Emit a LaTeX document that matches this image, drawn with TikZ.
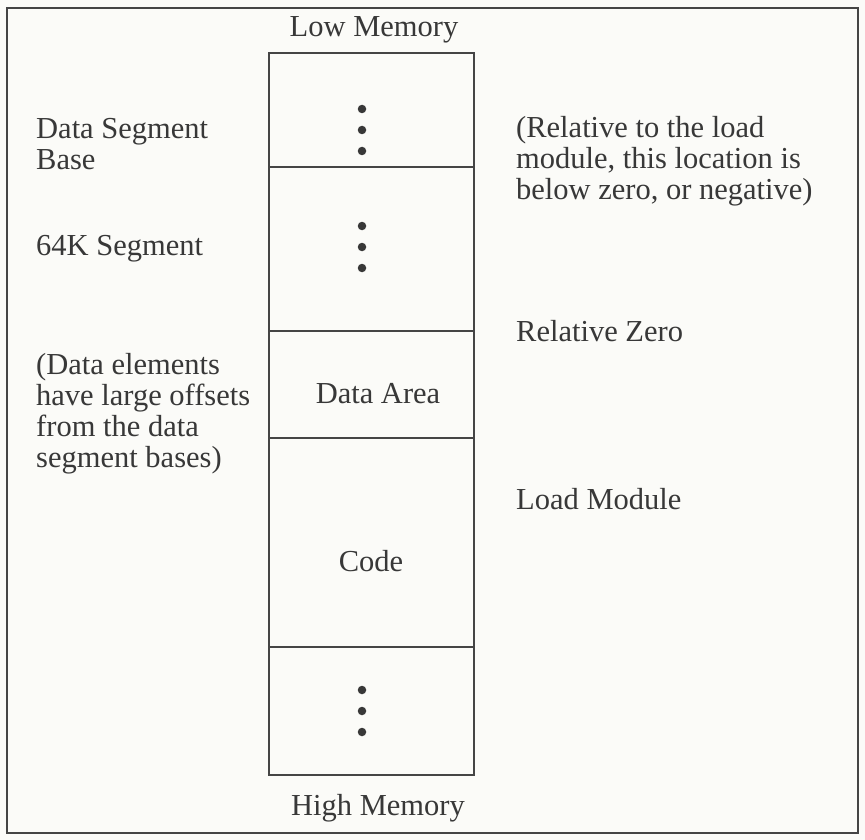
\documentclass[tikz,border=0pt]{standalone}
\usepackage{fontspec}
\setmainfont{Liberation Serif}
\definecolor{paper}{HTML}{FBFBF8}
\definecolor{ink}{HTML}{383838}
\definecolor{rule}{HTML}{454545}
\begin{document}
\begin{tikzpicture}[x=1pt,y=-1pt,
  lbl/.style={text=ink,inner sep=0pt,font=\fontsize{30.5}{31}\selectfont},
  para/.style={lbl,align=left,anchor=north west},
  section/.style={draw=rule,line width=2pt,minimum width=205pt,inner sep=0pt},
  dot/.style={circle,fill=ink,inner sep=0pt,minimum size=8.5pt}]
  % page and frame
  \fill[paper] (0,0) rectangle (865,840);
  \useasboundingbox (0,0) rectangle (865,840);
  \draw[rule,line width=1.8pt] (7,8) rectangle (858,833);

  % memory column, top to bottom
  \node[section,minimum height=114pt] (top)  at (371,110.5) {};
  \node[section,minimum height=164pt] (seg)  at (371,249) {};
  \node[section,minimum height=107pt] (data) at (371,384.5) {};
  \node[section,minimum height=209pt] (code) at (371,542.5) {};
  \node[section,minimum height=128pt] (high) at (371,711) {};

  % ellipsis dots
  \foreach \y [count=\i] in {109,130,151} \node[dot] (ta\i) at (362,\y) {};
  \foreach \y [count=\i] in {226,247,268} \node[dot] (sa\i) at (362,\y) {};
  \foreach \y [count=\i] in {690,711,732} \node[dot] (ha\i) at (362,\y) {};

  % labels
  \node[lbl] (low) at (374,30) {Low Memory};
  \node[lbl] (hi)  at (378,808) {High Memory};
  \node[lbl] (darea) at (378,394) {Data Area};
  \node[lbl] (cd)  at (371,561) {Code};

  \node[para] (dsb) at (36,118) {Data Segment\\Base};
  \node[para] (seg64) at (36,235) {64K Segment};
  \node[para] (elem) at (36,353) {(Data elements\\have large offsets\\from the data\\segment bases)};

  \node[para] (rel) at (516,116) {(Relative to the load\\module, this location is\\below zero, or negative)};
  \node[lbl,anchor=west] (zero) at (516,331) {Relative Zero};
  \node[lbl,anchor=west] (lm) at (516,499) {Load Module};
\end{tikzpicture}
\end{document}
